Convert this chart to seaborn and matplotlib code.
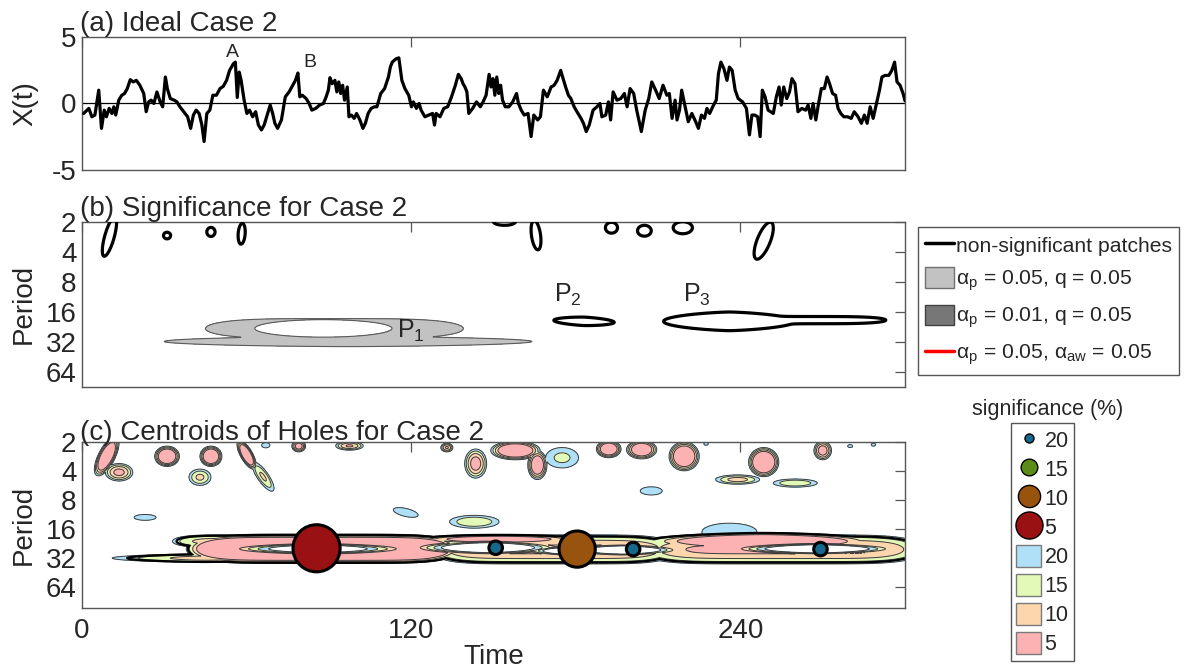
import numpy as np
import pandas as pd
import matplotlib
matplotlib.use("Agg")
import matplotlib.pyplot as plt
from matplotlib.lines import Line2D
from matplotlib.patches import Patch
import seaborn as sns

# ---------------- data ----------------
# (a) time series X(t)
time_pts = [
    0.6, 2.5, 3.6, 4.7, 6.1, 7.1, 8.1, 8.9, 9.9, 10.9,
    11.6, 12.3, 13.4, 14.5, 15.5, 16.5, 17.6, 18.7, 19.8, 21.1,
    22.5, 23.4, 24.3, 25.2, 26.2, 27.3, 28.5, 29.4, 30.4, 31.1,
    32.2, 33.6, 34.6, 35.7, 37.1, 38.5, 39.6, 40.6, 41.6, 42.7,
    43.7, 44.5, 45.5, 46.6, 47.7, 49.0, 50.3, 51.5, 52.7, 53.8,
    55.2, 55.9, 56.6, 57.3, 58.0, 59.1, 60.1, 61.1, 62.2, 63.3,
    64.3, 65.4, 66.4, 67.5, 68.6, 69.5, 70.3, 71.3, 72.7, 74.1,
    75.5, 76.8, 77.8, 78.7, 79.4, 80.3, 81.7, 82.8, 83.8, 85.2,
    86.6, 88.0, 89.0, 89.8, 90.4, 91.2, 92.2, 92.9, 93.6, 94.3,
    95.0, 95.7, 96.7, 97.3, 98.2, 99.2, 100.1, 101.3, 102.4, 103.3,
    104.3, 105.4, 106.6, 107.5, 108.9, 110.3, 111.7, 112.4, 113.1, 114.5,
    115.5, 116.6, 117.7, 119.1, 120.1, 120.8, 121.9, 122.9, 123.6, 125.0,
    126.4, 127.8, 128.5, 129.1, 130.5, 131.9, 133.3, 134.7, 136.1, 137.2,
    138.2, 138.9, 139.6, 140.3, 141.0, 142.4, 143.8, 145.2, 146.2, 147.3,
    148.4, 149.1, 149.8, 150.5, 151.2, 151.9, 152.6, 153.3, 154.3, 155.6,
    157.0, 158.4, 159.1, 160.1, 161.2, 162.6, 163.7, 164.7, 166.1, 167.1,
    168.2, 169.6, 171.0, 172.1, 173.2, 174.5, 175.2, 176.3, 177.3, 178.2,
    179.4, 180.8, 181.9, 182.8, 183.8, 184.9, 186.3, 187.7, 188.8,
    189.5, 190.9, 191.9, 192.7, 193.6, 195.0, 196.4, 197.7, 198.7, 199.8,
    201.1, 202.2, 203.9, 205.3, 206.6, 207.7, 209.1, 210.4, 211.8, 213.2,
    214.1, 215.1, 216.2, 216.9, 217.8, 218.6, 219.6, 221.0, 222.3, 223.7,
    224.7, 225.8, 226.9, 227.8, 228.8, 229.9, 231.2, 232.0, 232.9, 234.0,
    235.1, 236.0, 237.0, 238.1, 239.2, 240.8, 242.2, 243.3, 244.2, 245.2,
    246.3, 247.2, 248.0, 249.0, 250.1, 251.0, 252.0, 253.1, 254.1, 254.9,
    255.8, 256.9, 257.9, 258.8, 259.9, 261.0, 262.4, 263.8, 264.7, 265.7,
    266.5, 267.5, 268.4, 269.5, 270.6, 271.6, 272.5, 273.6, 274.7, 275.6,
    276.6, 277.7, 279.1, 280.4, 281.5, 282.9, 284.1, 285.2, 286.2, 287.3,
    288.4, 289.6, 290.7, 291.6, 292.7, 294.1, 295.2, 296.2, 297.1, 298.2,
    299.3, 300.0,
]
series_vals = [
    -0.75, -0.37, -1.0, -0.87, 1.0, -1.87, -0.5, -1.0, -0.37, -0.75,
    -0.25, -0.87, 0.25, 0.62, 0.75, 1.12, 1.79, 1.62, 1.74, 1.37,
    0.75, -0.62, 0.12, 0.25, 0.0, 0.87, 0.12, -0.25, 1.99, 1.12,
    0.37, 0.25, 0.12, -0.25, -0.62, -1.0, -1.87, -0.87, -0.5, -0.75,
    -1.62, -2.86, -0.75, -0.5, 0.62, 0.62, 1.12, 1.29, 1.74, 2.49,
    2.99, 3.11, 0.45, 2.36, 1.74, 0.25, -0.75, -0.5, -1.0, -0.62,
    -1.62, -1.99, -1.62, -0.87, -0.12, -0.75, -1.49, -1.87, -1.24, 0.5,
    0.87, 1.37, 1.74, 2.29, 0.5, 0.62, 0.37, 0.0, -0.5, -0.37,
    -0.12, 0.0, 0.5, 1.0, 1.94, 1.49, 1.74, 0.87, 1.62, 0.75,
    1.37, 0.25, 1.24, -1.0, -0.87, -1.12, -0.75, -1.24, -1.87, -1.49,
    -0.75, -0.37, -0.25, -0.25, 0.75, 1.12, 1.99, 2.74, 3.11, 3.36,
    3.43, 1.74, 1.12, 0.62, -0.25, 0.12, -0.37, 0.0, -0.5, -1.0,
    -0.87, -0.75, -1.62, -0.75, -1.0, -0.37, -0.25, 0.5, 1.37, 2.19,
    1.87, 1.49, 1.24, 0.87, -0.75, -0.37, 0.12, -0.25, 0.12, 0.62,
    2.19, 1.24, 1.87, 0.62, 1.99, 0.75, 1.37, 0.25, -0.25, -0.25,
    0.12, 0.75, 0.0, -0.5, -0.87, -0.75, -2.49, -0.87, -1.24, -1.0,
    1.0, 0.5, 1.24, 1.37, 1.74, 2.49, 1.99, 1.24, 0.62, 0.37,
    -0.25, -0.75, -1.12, -1.49, -2.11, -1.62, -0.5, -0.25, 0.0,
    -1.0, -0.87, 0.12, -1.24, 0.87, 0.25, 0.37, 0.75, -0.25, 1.12,
    0.75, -0.5, -2.11, -0.5, 0.37, 1.62, 1.0, 0.37, 1.37, 0.62,
    0.75, -1.12, 0.25, -1.24, -0.5, 1.0, 0.0, -1.37, -0.75, -1.37,
    -1.87, -0.87, -1.12, -0.37, -0.75, -0.25, 0.25, 2.24, 3.11, 2.61,
    1.74, 2.74, 2.49, 1.0, 0.37, 0.12, -0.37, -2.36, -0.87, -0.87,
    -1.0, -2.49, 1.0, 0.5, -0.5, -0.62, -0.75, 0.5, 1.24, -0.12,
    1.24, 0.37, 0.87, 1.87, 1.49, -0.62, -0.37, -0.5, -0.12, -1.12,
    0.0, -1.24, -0.12, 1.12, 1.12, 1.99, 1.49, 0.75, 0.62, -0.37,
    -0.75, -1.0, -1.0, -1.12, -0.62, -1.0, -1.49, -0.87, -1.49, -0.25,
    -1.12, 0.0, 1.0, 1.99, 2.11, 2.11, 2.49, 3.11, 1.62, 1.37,
    0.75, 0.2,
]
peak_labels = ["A", "B"]
peak_t = [55, 83]
peak_v = [3.8, 3.1]

time_ticks = [0, 120, 240]
period_ticks = [2, 4, 8, 16, 32, 64]

# (b) significant patch P1 (log2-period space): centre t, centre q, half-widths, shape exponent
p1_t = [92, 97]
p1_q = [4.55, 4.98]
p1_at = [47, 67]
p1_aq = [0.33, 0.17]
p1_m = [4, 1.6]
p1_hole = (88, 4.545, 25, 0.29, 2, 0.0)

# (b) non-significant patches
ns_t = [10, 31, 47, 58.2, 154, 165.5, 193, 205, 219, 248.5, 183, 236, 264]
ns_q = [1.5, 1.46, 1.34, 1.4, 1.0, 1.45, 1.2, 1.3, 1.2, 1.63, 4.31, 4.31, 4.27]
ns_at = [2.6, 1.3, 1.5, 1.3, 4.0, 1.8, 2.2, 2.5, 3.5, 3.5, 11, 24, 29]
ns_aq = [0.45, 0.11, 0.15, 0.34, 0.12, 0.45, 0.18, 0.18, 0.2, 0.45, 0.14, 0.31, 0.12]
ns_m = [2, 2, 2, 2, 2, 2, 2, 2, 2, 2, 1.5, 1.4, 4]
ns_sk = [-0.18, 0, 0, -0.05, 0, 0.1, 0, 0, 0, -0.12, 0.003, 0, 0]
patch_names = ["P$_1$", "P$_2$", "P$_3$"]
patch_lab_t = [115, 172, 219]
patch_lab_p = [24.5, 10.9, 10.8]

# (c) significance field: blobs (t, q, half-width t, half-width q, exponent, skew, strength)
cb_t = [88, 45, 55, 172, 152, 255, 248, 236,
        9, 13.5, 31, 43, 47, 60, 66, 67, 79, 97.5, 133, 143.5,
        158, 166, 175, 192, 204, 219.5, 227.5, 207.5, 248.5, 239, 260,
        270, 280, 288.5, 23, 118, 143]
cb_q = [4.68, 5.0, 4.42, 4.7, 4.35, 4.7, 4.42, 4.1,
        1.5, 2.05, 1.5, 2.22, 1.5, 1.45, 2.2, 1.12, 1.15, 1.14, 1.2, 1.75,
        1.3, 1.8, 1.55, 1.25, 1.27, 1.5, 1.07, 2.69, 1.7, 2.3, 2.42,
        1.3, 1.15, 1.1, 3.6, 3.43, 3.75]
cb_at = [50, 34, 22, 45, 30, 52, 44, 10,
         4.5, 5, 4.5, 4, 4, 3.5, 4, 1.5, 2.5, 5, 2.2, 4,
         9, 3.5, 6, 4.5, 5.5, 5.5, 0.8, 4, 5.5, 8, 8,
         3.2, 0.9, 0.8, 4, 4.5, 9]
cb_aq = [0.5, 0.15, 0.22, 0.5, 0.16, 0.5, 0.3, 0.3,
         0.5, 0.3, 0.35, 0.28, 0.35, 0.35, 0.3, 0.09, 0.2, 0.15, 0.15, 0.5,
         0.32, 0.5, 0.35, 0.3, 0.32, 0.5, 0.05, 0.14, 0.5, 0.16, 0.14,
         0.32, 0.05, 0.05, 0.1, 0.14, 0.22]
cb_m = [6, 1.5, 4, 6, 2, 6, 1.6, 2,
        2, 2, 2, 2, 2, 2, 2, 2, 2, 2, 2, 2,
        2, 2, 2, 2, 2, 2, 2, 2, 2, 2, 2,
        2, 2, 2, 2, 2, 2]
cb_sk = [0, 0, 0, 0, 0, 0, 0, 0,
         -0.1, 0, 0, 0, 0, 0.1, 0.1, 0, 0, 0, 0, 0,
         0, 0, 0, 0, 0, 0, 0, 0, 0, 0, 0,
         0, 0, 0, 0, 0.02, 0]
cb_c = [8, 2.6, 2.5, 3.3, 5, 3.3, 7, 0.8,
        6, 3.5, 6, 2.3, 6, 6, 2.2, 0.8, 4, 3.2, 3.2, 3.8,
        6, 5, 1.3, 5.5, 5.5, 6, 0.5, 0.8, 6.5, 2.5, 2.0,
        4, 0.5, 0.5, 0.8, 0.8, 2.0]
n_band = 7
# holes in (c)
ch_t = [86, 148, 178, 197, 268]
ch_q = [4.68, 4.64, 4.75, 4.72, 4.68]
ch_at = [18, 17, 10, 14, 19]
ch_aq = [0.13, 0.17, 0.12, 0.14, 0.14]
ch_m = [1.5, 1.5, 1.5, 1.5, 1.5]
ch_k = [3, 4, 4, 4, 4]

sig_levels = ["20", "15", "10", "5"]
fill_colors = ["#b0e0f8", "#e2f9b8", "#fdd6ae", "#fcb2b2"]
dot_colors = {"20": "#16688c", "15": "#5b8c17", "10": "#98530f", "5": "#9a1113"}

# centroids of holes
cent_t = [85.5, 150.8, 180.5, 200.9, 269.2]
cent_p = [25.3, 25.0, 25.8, 25.8, 25.8]
cent_sig = ["5", "20", "10", "20", "20"]

# ---------------- style ----------------
sns.set_theme(style="white")
plt.rcParams["font.family"] = ["Liberation Sans", "DejaVu Sans"]
plt.rcParams["mathtext.fontset"] = "custom"
plt.rcParams["mathtext.rm"] = "Liberation Sans"
plt.rcParams["mathtext.it"] = "Liberation Sans:italic"
plt.rcParams["mathtext.default"] = "regular"
plt.rcParams["axes.unicode_minus"] = False

FS = 20
fig = plt.figure(figsize=(11.85, 6.70), dpi=100)
ax_a = fig.add_axes([0.0692, 0.7463, 0.6945, 0.1985])
ax_b = fig.add_axes([0.0692, 0.4224, 0.6945, 0.2467])
ax_c = fig.add_axes([0.0692, 0.0925, 0.6945, 0.2482])

for ax in (ax_a, ax_b, ax_c):
    for s in ax.spines.values():
        s.set_color("#555555")
        s.set_linewidth(1.0)
    ax.tick_params(direction="in", length=7, width=0.9, color="#555555",
                   top=True, right=True, labelsize=FS, pad=4)
    ax.set_xlim(0, 300)
    ax.set_xticks(time_ticks)

# grid in (time, log2 period)
T = np.linspace(0, 300, 1201)
Q = np.linspace(0.6, 7.2, 900)
TT, QQ = np.meshgrid(T, Q)
PP = 2.0 ** QQ


def r2(tc, qc, at, aq, m, sk):
    return np.abs((TT - tc) / at) ** m + ((QQ - qc - sk * (TT - tc)) / aq) ** 2


def smooth_max(fields, k=0.08):
    arr = np.array(fields)
    mx = arr.max(axis=0)
    return mx + k * np.log(np.exp((arr - mx) / k).sum(axis=0))


# ---- (a) ----
df = pd.DataFrame({"t": time_pts, "x": series_vals})
ax_a.axhline(0, color="black", lw=0.9, zorder=1)
sns.lineplot(data=df, x="t", y="x", color="black", lw=2.3, sort=False,
             estimator=None, ax=ax_a, zorder=3)
ax_a.set_ylim(-5, 5)
ax_a.set_yticks([-5, 0, 5])
ax_a.tick_params(axis="y", left=False, right=False)
ax_a.set_xticklabels([])
ax_a.set_xlabel("")
ax_a.set_ylabel("X(t)", fontsize=FS)
ax_a.yaxis.set_label_coords(-0.053, 0.5)
for lab, tx, vy in zip(peak_labels, peak_t, peak_v):
    ax_a.text(tx, vy, lab, fontsize=14, ha="center", va="center")
ax_a.set_title("(a) Ideal Case 2", loc="left", fontsize=FS, pad=3, x=-0.002)

# ---- (b) ----
F1 = smooth_max([1 - r2(p1_t[i], p1_q[i], p1_at[i], p1_aq[i], p1_m[i], 0.0)
                 for i in range(len(p1_t))], k=0.1)
F1 = np.minimum(F1, r2(*p1_hole) - 1)
ax_b.contourf(TT, PP, F1, levels=[0, 100], colors=["#c2c2c2"], zorder=1)
ax_b.contour(TT, PP, F1, levels=[0], colors=["#5a5a5a"], linewidths=0.8, zorder=2)
G = smooth_max([1 - r2(ns_t[i], ns_q[i], ns_at[i], ns_aq[i], ns_m[i], ns_sk[i])
                for i in range(len(ns_t))], k=0.12)
ax_b.contour(TT, PP, G, levels=[0], colors=["black"], linewidths=2.3, zorder=3)
for nm, tx, py in zip(patch_names, patch_lab_t, patch_lab_p):
    ax_b.text(tx, py, nm, fontsize=18, ha="left", va="center", zorder=4)
ax_b.set_yscale("log", base=2)
ax_b.set_ylim(90, 2)
ax_b.set_yticks(period_ticks)
ax_b.set_yticklabels([str(p) for p in period_ticks])
ax_b.minorticks_off()
ax_b.set_xticklabels([])
ax_b.set_ylabel("Period", fontsize=FS)
ax_b.yaxis.set_label_coords(-0.055, 0.5)
ax_b.set_title("(b) Significance for Case 2", loc="left", fontsize=FS, pad=1, x=-0.002)

# ---- (c) ----
fields = [1 + cb_c[i] * (1 - r2(cb_t[i], cb_q[i], cb_at[i], cb_aq[i], cb_m[i], cb_sk[i]))
          for i in range(len(cb_t))]
V = np.max(fields, axis=0)
band = np.max(fields[:n_band], axis=0)
for i in range(len(ch_t)):
    V = np.minimum(V, 1 + ch_k[i] * (r2(ch_t[i], ch_q[i], ch_at[i], ch_aq[i], ch_m[i], 0.0) - 1))
ax_c.contourf(TT, PP, V, levels=[1, 2, 3, 4, 1e3], colors=fill_colors, zorder=1)
ax_c.contour(TT, PP, V, levels=[1, 2, 3, 4], colors=["#3c3c3c"], linewidths=0.7, zorder=2)
ax_c.contour(TT, PP, band, levels=[1.6], colors=["black"], linewidths=1.6, zorder=2)

cdf = pd.DataFrame({"t": cent_t, "p": cent_p, "sig": cent_sig})
sns.scatterplot(data=cdf, x="t", y="p", hue="sig", size="sig",
                palette=dot_colors, sizes={"5": 1150, "10": 680, "15": 330, "20": 95},
                edgecolor="black", linewidth=2.2, legend=False, ax=ax_c, zorder=5)
ax_c.set_yscale("log", base=2)
ax_c.set_ylim(105, 2)
ax_c.set_yticks(period_ticks)
ax_c.set_yticklabels([str(p) for p in period_ticks])
ax_c.minorticks_off()
ax_c.set_xlim(0, 300)
ax_c.set_xticks(time_ticks)
ax_c.set_xticklabels([str(t) for t in time_ticks])
ax_c.tick_params(axis="x", pad=7)
ax_c.set_xlabel("Time", fontsize=FS, labelpad=0)
ax_c.set_ylabel("Period", fontsize=FS)
ax_c.yaxis.set_label_coords(-0.055, 0.5)
ax_c.set_title("(c) Centroids of Holes for Case 2", loc="left", fontsize=FS, pad=1, x=-0.002)

# ---- legends ----
h1 = [Line2D([], [], color="black", lw=2.5),
      Patch(facecolor="#c2c2c2", edgecolor="#707070"),
      Patch(facecolor="#777777", edgecolor="#404040"),
      Line2D([], [], color="red", lw=2.5)]
l1 = ["non-significant patches",
      r"$\alpha_p$ = 0.05, q = 0.05",
      r"$\alpha_p$ = 0.01, q = 0.05",
      r"$\alpha_p$ = 0.05, $\alpha_{aw}$ = 0.05"]
leg1 = fig.legend(h1, l1, loc="upper left", bbox_to_anchor=(0.7747, 0.661),
                  fontsize=15.2, frameon=True, fancybox=False, framealpha=1,
                  edgecolor="#555555", borderpad=0.35, handlelength=1.35,
                  handleheight=1.1, handletextpad=0.1, labelspacing=0.55,
                  borderaxespad=0)
leg1.get_frame().set_linewidth(1.0)

msz = {"20": 6.5, "15": 12, "10": 16, "5": 19.5}
h2 = [Line2D([], [], ls="none", marker="o", ms=msz[s], mfc=dot_colors[s],
             mec="black", mew=1.0) for s in sig_levels]
h2 += [Patch(facecolor=fill_colors[i], edgecolor="#7a7a7a") for i in range(4)]
l2 = sig_levels + sig_levels
leg2 = fig.legend(h2, l2, loc="upper left", bbox_to_anchor=(0.8532, 0.3687),
                  fontsize=15.5, frameon=True, fancybox=False, framealpha=1,
                  edgecolor="#555555", borderpad=0.25, handlelength=1.15,
                  handleheight=1.2, handletextpad=0.15, labelspacing=0.27,
                  borderaxespad=0)
leg2.get_frame().set_linewidth(1.0)
fig.text(1048 / 1185, 1 - 410 / 670, "significance (%)", fontsize=15.5,
         ha="center", va="center")

fig.savefig("out.png", dpi=100)
